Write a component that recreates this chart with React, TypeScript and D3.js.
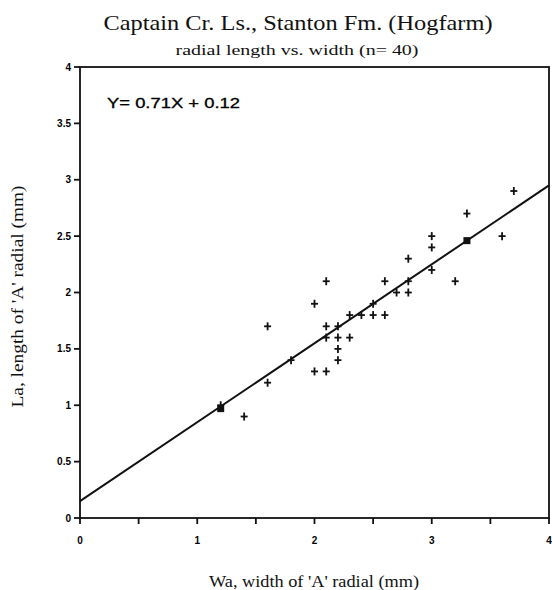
import * as d3 from "d3";

// measured widths (mm)
const widths = [1.2, 1.4, 1.6, 1.6, 1.8, 2.0, 2.0, 2.1, 2.1, 2.1, 2.1, 2.2, 2.2, 2.2, 2.2, 2.3, 2.3, 2.4, 2.5, 2.5, 2.6, 2.6, 2.7, 2.8, 2.8, 2.8, 3.0, 3.0, 3.0, 3.2, 3.3, 3.6, 3.7];
// measured lengths (mm)
const lengths = [1.0, 0.9, 1.2, 1.7, 1.4, 1.9, 1.3, 2.1, 1.7, 1.6, 1.3, 1.7, 1.6, 1.5, 1.4, 1.8, 1.6, 1.8, 1.9, 1.8, 2.1, 1.8, 2.0, 2.3, 2.1, 2.0, 2.5, 2.4, 2.2, 2.1, 2.7, 2.5, 2.9];

// regression line as drawn, and the two square markers on it
const fitX = [0, 4];
const fitY = [0.15, 2.95];
const squareX = [1.2, 3.3];
const squareY = [0.97, 2.46];

const xTicks = [0, 0.5, 1, 1.5, 2, 2.5, 3, 3.5, 4];
const xTickLabels = ["0", "", "1", "", "2", "", "3", "", "4"];
const yTicks = [0, 0.5, 1, 1.5, 2, 2.5, 3, 3.5, 4];
const yTickLabels = ["0", "0.5", "1", "1.5", "2", "2.5", "3", "3.5", "4"];

const W = 552;
const H = 590;
const m = { left: 80, right: 3, top: 67, bottom: 72 };

const serif = "'Liberation Serif', 'DejaVu Serif', serif";
const sansBold = "'Liberation Sans Narrow', 'Liberation Sans', Arial, sans-serif";

export default function App() {
  const x = d3.scaleLinear().domain([0, 4]).range([m.left, W - m.right]);
  const y = d3.scaleLinear().domain([0, 4]).range([H - m.bottom, m.top]);

  const pts = widths.map((w, i) => ({ w, l: lengths[i] }));
  const fit = fitX.map((v, i) => [v, fitY[i]] as [number, number]);
  const line = d3
    .line<[number, number]>()
    .x((d) => x(d[0]))
    .y((d) => y(d[1]));

  const x0 = x(0);
  const x1 = x(4);
  const y0 = y(0);
  const y1 = y(4);

  return (
    <svg
      width={W}
      height={H}
      style={{ position: "absolute", left: 0, top: 0, display: "block", background: "#fff" }}
    >
      {/* titles */}
      <text x={298} y={30} textAnchor="middle" fontFamily={serif} fontSize={21} fill="#111" textLength={389} lengthAdjust="spacingAndGlyphs">
        Captain Cr. Ls., Stanton Fm. (Hogfarm)
      </text>
      <text x={297} y={55} textAnchor="middle" fontFamily={serif} fontSize={15} fill="#111" textLength={243} lengthAdjust="spacingAndGlyphs">
        radial length vs. width (n= 40)
      </text>

      {/* frame */}
      <rect x={x0} y={y1} width={x1 - x0} height={y0 - y1} fill="none" stroke="#111" strokeWidth={1.8} />

      {/* y ticks */}
      {yTicks.map((t, i) => (
        <g key={"y" + t}>
          <line x1={x0 - 6} x2={x0} y1={y(t)} y2={y(t)} stroke="#111" strokeWidth={1.8} />
          <text x={x0 - 9} y={y(t)} dy="0.35em" textAnchor="end" fontFamily={sansBold} fontWeight="bold" fontSize={10} fill="#000">
            {yTickLabels[i]}
          </text>
        </g>
      ))}

      {/* x ticks */}
      {xTicks.map((t, i) => (
        <g key={"x" + t}>
          <line x1={x(t)} x2={x(t)} y1={y0} y2={y0 + 6} stroke="#111" strokeWidth={1.8} />
          <text x={x(t)} y={y0 + 26} textAnchor="middle" fontFamily={sansBold} fontWeight="bold" fontSize={10} fill="#000">
            {xTickLabels[i]}
          </text>
        </g>
      ))}

      {/* axis titles */}
      <text x={314} y={587} textAnchor="middle" fontFamily={serif} fontSize={16} fill="#111" textLength={210} lengthAdjust="spacingAndGlyphs">
        Wa, width of 'A' radial (mm)
      </text>
      <text
        transform={`translate(23,${(y0 + y1) / 2 + 4}) rotate(-90)`}
        textAnchor="middle"
        fontFamily={serif}
        fontSize={16}
        fill="#111"
        textLength={222}
        lengthAdjust="spacingAndGlyphs"
      >
        La, length of 'A' radial (mm)
      </text>

      {/* equation */}
      <text x={107} y={108} fontFamily="'Liberation Sans', Arial, sans-serif" fontSize={14} fill="#000" stroke="#000" strokeWidth={0.3} textLength={133} lengthAdjust="spacingAndGlyphs">
        Y= 0.71X + 0.12
      </text>

      {/* fit line */}
      <path d={line(fit) ?? ""} fill="none" stroke="#111" strokeWidth={2} />

      {/* points */}
      {pts.map((p, i) => (
        <g key={i} transform={`translate(${x(p.w)},${y(p.l)})`} stroke="#111" strokeWidth={1.8}>
          <line x1={-3.5} x2={3.5} y1={0} y2={0} />
          <line x1={0} x2={0} y1={-4} y2={4} />
        </g>
      ))}

      {/* square markers */}
      {squareX.map((sx, i) => (
        <rect key={"s" + i} x={x(sx) - 3.5} y={y(squareY[i]) - 3.5} width={7} height={7} fill="#111" />
      ))}
    </svg>
  );
}
